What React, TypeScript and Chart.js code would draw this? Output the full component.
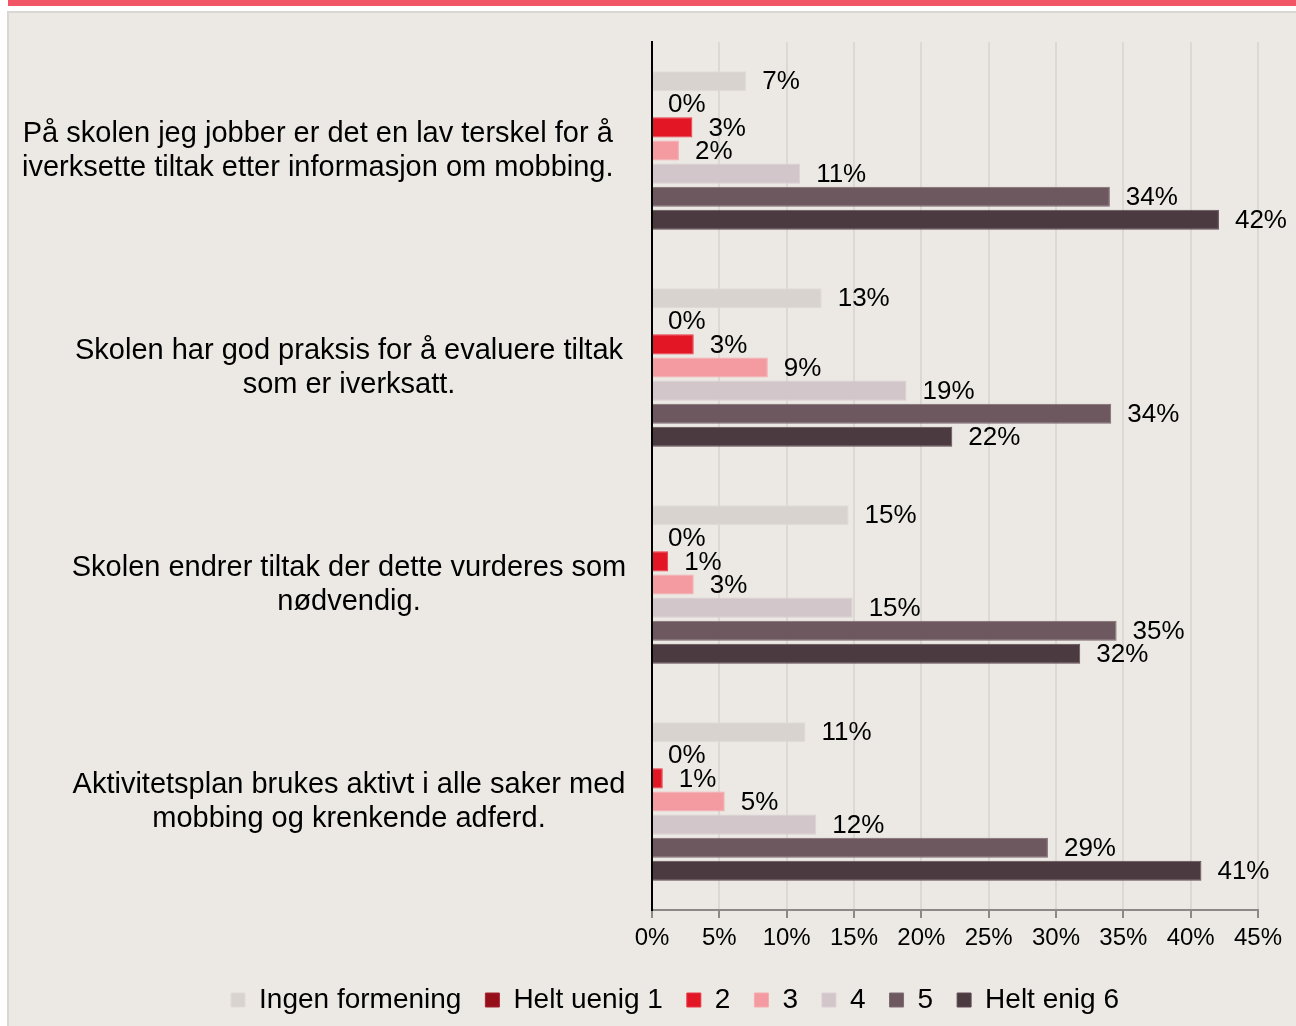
import React, { useEffect, useRef } from "react";
import { Chart, registerables } from "chart.js";

Chart.register(...registerables);

const categories: string[][] = [
  ["På skolen jeg jobber er det en lav terskel for å", "iverksette tiltak etter informasjon om mobbing."],
  ["Skolen har god praksis for å evaluere tiltak", "som er iverksatt."],
  ["Skolen endrer tiltak der dette vurderes som", "nødvendig."],
  ["Aktivitetsplan brukes aktivt i alle saker med", "mobbing og krenkende adferd."],
];

const seriesNames = ["Ingen formening", "Helt uenig 1", "2", "3", "4", "5", "Helt enig 6"];
const ingenFormening = [7.0, 12.6, 14.6, 11.4];
const heltUenig1 = [0, 0, 0, 0];
const val2 = [3.0, 3.1, 1.2, 0.8];
const val3 = [2.0, 8.6, 3.1, 5.4];
const val4 = [11.0, 18.9, 14.9, 12.2];
const val5 = [34.0, 34.1, 34.5, 29.4];
const heltEnig6 = [42.1, 22.3, 31.8, 40.8];
const xTicks = [0, 5, 10, 15, 20, 25, 30, 35, 40, 45];

const colors = ["#D8D3CF", "#950F1B", "#E31626", "#F49BA1", "#D2C6CA", "#6D5860", "#4C3A41"];
const borders = ["#DFDBD7", "#A62530", "#E83A48", "#F6ABB0", "#DAD0D3", "#7E6B72", "#5E4D53"];

const FONT = "'Liberation Sans', Arial, sans-serif";

const labelPlugin = {
  id: "valueLabels",
  afterDatasetsDraw(chart: any) {
    const ctx = chart.ctx;
    ctx.save();
    ctx.font = `26px ${FONT}`;
    ctx.fillStyle = "#000";
    ctx.textAlign = "left";
    ctx.textBaseline = "middle";
    chart.data.datasets.forEach((ds: any, di: number) => {
      const meta = chart.getDatasetMeta(di);
      meta.data.forEach((el: any, i: number) => {
        const v = ds.data[i];
        ctx.fillText(Math.round(v) + "%", el.x + 16, el.y + 1);
      });
    });
    ctx.restore();
  },
};

const catPlugin = {
  id: "catLabels",
  afterDraw(chart: any) {
    const ctx = chart.ctx;
    const ys = chart.scales.y;
    ctx.save();
    ctx.font = `29px ${FONT}`;
    ctx.fillStyle = "#000";
    ctx.textAlign = "center";
    ctx.textBaseline = "middle";
    const lh = 34;
    categories.forEach((lines, i) => {
      const cy = ys.getPixelForValue(i);
      const w = Math.max(...lines.map((l) => ctx.measureText(l).width));
      const cx = w > 570 ? 22 + w / 2 : 349;
      lines.forEach((line, k) => {
        const y = cy + (k - (lines.length - 1) / 2) * lh;
        ctx.fillText(line, cx, y);
      });
    });
    ctx.restore();
  },
};

export default function App() {
  const ref = useRef<HTMLCanvasElement | null>(null);
  useEffect(() => {
    const data = [ingenFormening, heltUenig1, val2, val3, val4, val5, heltEnig6];
    const chart = new Chart(ref.current as HTMLCanvasElement, {
      type: "bar",
      data: {
        labels: categories.map((c) => c.join(" ")),
        datasets: seriesNames.map((name, i) => ({
          label: name,
          data: data[i],
          backgroundColor: colors[i],
          borderColor: borders[i],
          borderWidth: 1,
          borderSkipped: "start",
          barPercentage: 0.87,
          categoryPercentage: 0.745,
        })),
      },
      options: {
        indexAxis: "y",
        animation: false,
        responsive: false,
        maintainAspectRatio: false,
        layout: { padding: { left: 92, right: 38, top: 42, bottom: 2 } },
        scales: {
          x: {
            min: 0,
            max: 45,
            afterBuildTicks(scale: any) {
              scale.ticks = xTicks.map((v) => ({ value: v }));
            },
            afterFit(scale: any) {
              scale.height = 52;
            },
            ticks: {
              callback: (v: any) => v + "%",
              font: { family: FONT, size: 24 },
              color: "#000",
              padding: 6,
              maxRotation: 0,
            },
            grid: {
              color: (c: any) => (c.tick && c.tick.value === 0 ? "rgba(0,0,0,0)" : "#DCD9D5"),
              lineWidth: 2,
              tickColor: "#8C8A88",
              tickLength: 8,
            },
            border: { color: "#8C8A88", width: 2 },
          },
          y: {
            ticks: { display: false },
            grid: { display: false },
            border: { color: "#000", width: 2 },
            afterFit(scale: any) {
              scale.width = 560;
            },
          },
        },
        plugins: {
          legend: {
            position: "bottom",
            labels: {
              font: { family: FONT, size: 28 },
              color: "#000",
              boxWidth: 14,
              boxHeight: 14,
              padding: 24,
              useBorderRadius: false,
            },
          },
          tooltip: { enabled: false },
        },
      } as any,
      plugins: [labelPlugin, catPlugin],
    });
    return () => chart.destroy();
  }, []);

  return (
    <div style={{ position: "absolute", left: 0, top: 0, width: 1296, height: 1026, background: "#FFFFFF", overflow: "hidden" }}>
      <div style={{ position: "absolute", left: 8, top: 0, width: 1288, height: 6, background: "#F25565" }} />
      <div
        style={{
          position: "absolute",
          left: 7,
          top: 11,
          width: 1289,
          height: 1015,
          background: "#ECE9E4",
          borderTop: "2px solid #D9D7D3",
          borderLeft: "2px solid #D9D7D3",
          boxSizing: "border-box",
        }}
      />
      <canvas ref={ref} width={1296} height={1026} style={{ position: "absolute", left: 0, top: 0, width: 1296, height: 1026 }} />
    </div>
  );
}
